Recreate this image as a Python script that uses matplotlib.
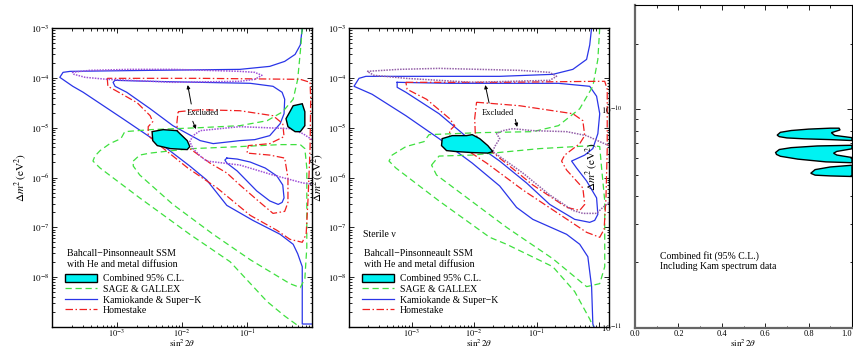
import numpy as np
import matplotlib
matplotlib.use('Agg')
import matplotlib.pyplot as plt
from matplotlib.ticker import (LogLocator, FuncFormatter, NullFormatter, MultipleLocator,
                               FixedLocator, FixedFormatter)
from matplotlib.patches import Patch
from matplotlib.lines import Line2D

plt.rcParams['font.family'] = ['Liberation Serif', 'DejaVu Serif']
plt.rcParams['mathtext.fontset'] = 'stix'

# Contours are stored as (log10 sin^2 2theta, log10 dm^2) pairs

# --- panel 1: active neutrinos ---
kam_a1 = [(-0.15, -3.00), (-0.18, -3.34), (-0.26, -3.53), (-0.42, -3.67), (-0.65, -3.77),
          (-1.11, -3.83), (-2.49, -3.85), (-3.72, -3.87), (-3.83, -3.89), (-3.88, -3.99),
          (-3.68, -4.17), (-3.52, -4.29), (-2.91, -4.82), (-2.23, -5.42), (-1.88, -5.77),
          (-1.62, -6.05), (-1.31, -6.56), (-0.91, -6.86), (-0.49, -7.14), (-0.29, -7.34),
          (-0.22, -7.53), (-0.15, -7.79), (-0.15, -8.94), (0.00, -8.94)]
kam_b1 = [(-3.03, -4.05), (-2.49, -4.07), (-1.72, -4.09), (-0.95, -4.11), (-0.60, -4.17),
          (-0.46, -4.29), (-0.42, -4.43), (-0.43, -4.72), (-0.49, -4.92), (-0.65, -5.16),
          (-0.88, -5.24), (-1.11, -5.26), (-1.52, -5.32), (-1.72, -5.26), (-2.14, -4.96),
          (-2.49, -4.62), (-2.85, -4.29), (-3.03, -4.17), (-3.06, -4.09)]
kam_c1 = [(-1.31, -5.61), (-1.15, -5.63), (-0.95, -5.69), (-0.72, -5.81), (-0.54, -5.97),
          (-0.45, -6.15), (-0.43, -6.41), (-0.46, -6.50), (-0.52, -6.54), (-0.65, -6.47),
          (-0.85, -6.27), (-1.15, -5.87), (-1.31, -5.71), (-1.34, -5.65)]
gal_a1 = [(-0.15, -3.00), (-0.17, -3.34), (-0.22, -4.03), (-0.29, -4.43), (-0.45, -4.68),
          (-0.69, -4.86), (-1.11, -4.96), (-1.72, -5.00), (-2.49, -5.04), (-2.88, -5.08),
          (-2.94, -5.22), (-3.11, -5.32), (-3.26, -5.46), (-3.34, -5.57), (-3.37, -5.67),
          (-3.26, -5.81), (-2.65, -6.41), (-1.88, -7.14), (-1.26, -7.69), (-0.69, -8.49),
          (-0.42, -8.78), (-0.23, -8.96)]
gal_b1 = [(-2.75, -5.67), (-2.65, -5.55), (-2.49, -5.51), (-2.14, -5.46), (-1.83, -5.42),
          (-1.11, -5.38), (-0.49, -5.34), (-0.18, -5.34), (-0.11, -5.42), (-0.08, -5.81),
          (-0.08, -7.40), (-0.11, -8.03), (-0.18, -8.21), (-0.34, -8.13), (-0.95, -7.65),
          (-1.52, -7.14), (-2.14, -6.54), (-2.65, -5.95), (-2.75, -5.77)]
home_a1 = [(-3.15, -4.01), (-3.14, -4.17), (-3.00, -4.27), (-2.69, -4.50), (-2.49, -4.76),
           (-2.45, -4.88), (-2.52, -4.98), (-2.52, -5.16), (-2.34, -5.36), (-1.91, -5.81),
           (-1.46, -6.21), (-0.95, -6.76), (-0.54, -7.06), (-0.34, -7.24), (-0.15, -7.30),
           (-0.09, -7.14), (-0.06, -6.41), (-0.03, -5.42), (-0.02, -4.43), (-0.03, -4.09),
           (-0.18, -4.03), (-1.72, -4.01)]
home_b1 = [(-2.06, -4.68), (-1.72, -4.64), (-1.11, -4.66), (-0.60, -4.76), (-0.45, -4.92),
           (-0.43, -5.18), (-0.65, -5.32), (-0.98, -5.36), (-1.00, -5.51), (-0.65, -5.55),
           (-0.42, -5.61), (-0.37, -6.01), (-0.37, -6.50), (-0.42, -6.68), (-0.60, -6.72),
           (-0.80, -6.50), (-1.11, -6.15), (-1.31, -5.91), (-1.57, -5.71), (-1.88, -5.42),
           (-2.06, -5.18), (-2.08, -4.92)]
dn_a1 = [(-3.69, -3.89), (-3.42, -3.85), (-2.80, -3.83), (-2.14, -3.83), (-1.11, -3.87),
         (-0.88, -3.89), (-0.77, -3.95), (-0.88, -4.03), (-1.11, -4.07), (-2.14, -4.09),
         (-3.15, -4.03), (-3.49, -3.99), (-3.66, -3.93)]
dn_b1 = [(0.00, -5.24), (-0.14, -5.12), (-0.34, -5.02), (-1.11, -4.98), (-1.72, -5.06),
         (-1.83, -5.16), (-1.88, -5.28), (-1.83, -5.42), (-1.72, -5.57), (-1.62, -5.67),
         (-1.11, -5.75), (-0.60, -5.95), (-0.14, -6.11), (0.00, -6.13)]
comb_a1 = [(-2.46, -5.08), (-2.29, -5.04), (-2.08, -5.06), (-1.92, -5.26), (-1.88, -5.38),
           (-1.92, -5.44), (-2.18, -5.42), (-2.38, -5.36), (-2.45, -5.26)]
comb_b1 = [(-0.29, -4.56), (-0.15, -4.52), (-0.11, -4.68), (-0.11, -4.96), (-0.18, -5.08),
           (-0.26, -5.08), (-0.37, -4.98), (-0.40, -4.82), (-0.34, -4.68)]

# --- panel 2: sterile neutrinos ---
kam_a2 = [(-0.12, -3.00), (-0.15, -3.34), (-0.20, -3.63), (-0.42, -3.83), (-0.74, -3.93),
          (-1.59, -3.97), (-3.20, -3.97), (-3.73, -3.97), (-3.84, -4.01), (-3.92, -4.17),
          (-3.63, -4.33), (-3.09, -4.76), (-2.56, -5.22), (-2.03, -5.71), (-1.59, -6.17),
          (-1.32, -6.60), (-1.06, -6.84), (-0.52, -7.14), (-0.31, -7.34), (-0.18, -7.59),
          (-0.12, -8.19), (-0.10, -8.94), (-0.08, -9.00)]
kam_b2 = [(-3.23, -4.09), (-2.39, -4.11), (-0.65, -4.11), (-0.15, -4.17), (-0.04, -4.37),
          (0.01, -4.72), (-0.02, -5.12), (-0.10, -5.42), (-0.23, -5.55), (-0.44, -5.67),
          (-0.36, -5.81), (-0.20, -6.07), (-0.04, -6.41), (-0.02, -6.74), (-0.07, -6.86),
          (-0.15, -6.90), (-0.39, -6.84), (-0.79, -6.54), (-1.16, -6.11), (-1.59, -5.67),
          (-2.03, -5.28), (-2.56, -4.72), (-3.09, -4.29), (-3.23, -4.19)]
gal_a2 = [(0.01, -3.00), (-0.02, -3.63), (-0.10, -4.17), (-0.31, -4.62), (-0.65, -4.96),
          (-1.06, -5.08), (-1.91, -5.10), (-2.72, -5.14), (-2.80, -5.28), (-3.09, -5.38),
          (-3.31, -5.55), (-3.36, -5.67), (-3.25, -5.81), (-2.56, -6.47), (-1.75, -7.20),
          (-1.48, -7.34), (-0.74, -7.79), (-0.39, -8.29), (-0.15, -8.84), (-0.10, -8.98)]
gal_b2 = [(-2.68, -5.75), (-2.56, -5.57), (-2.03, -5.55), (-1.70, -5.51), (-0.95, -5.42),
          (-0.10, -5.36), (0.01, -5.38), (0.04, -5.81), (0.09, -6.47), (0.09, -7.79),
          (0.01, -8.13), (-0.20, -8.19), (-0.74, -7.63), (-1.48, -7.00), (-2.60, -5.95)]
home_a2 = [(-3.09, -4.09), (-1.59, -4.09), (-0.04, -4.07), (0.09, -4.07), (0.13, -4.23),
           (0.13, -5.42), (0.11, -6.41), (0.08, -7.04), (0.01, -7.20), (-0.20, -7.10),
           (-0.68, -6.70), (-1.22, -6.25), (-1.80, -5.71), (-2.39, -5.22), (-2.39, -5.06),
           (-2.31, -4.96), (-2.39, -4.82), (-2.76, -4.43), (-3.07, -4.23)]
home_b2 = [(-1.96, -4.49), (-1.27, -4.56), (-0.42, -4.72), (-0.26, -4.86), (-0.23, -5.16),
           (-0.31, -5.32), (-0.55, -5.55), (-0.60, -5.67), (-0.52, -5.85), (-0.26, -6.21),
           (-0.23, -6.54), (-0.31, -6.66), (-0.52, -6.60), (-1.06, -6.15), (-1.59, -5.61),
           (-1.91, -5.28), (-1.98, -5.12), (-1.99, -4.82)]
dn_a2 = [(-3.71, -3.87), (-3.20, -3.83), (-2.56, -3.81), (-1.27, -3.85), (-0.79, -3.89),
         (-0.68, -3.97), (-0.79, -4.05), (-2.03, -4.09), (-3.09, -4.01), (-3.60, -3.95)]
dn_b2 = [(0.16, -5.36), (0.01, -5.28), (-0.20, -5.16), (-0.52, -5.08), (-1.06, -5.06),
         (-1.38, -5.02), (-1.54, -5.06), (-1.64, -5.12), (-1.59, -5.22), (-1.67, -5.38),
         (-1.70, -5.48), (-1.22, -5.91), (-0.79, -6.35), (-0.42, -6.66), (-0.26, -6.72),
         (-0.04, -6.72), (0.06, -6.60), (0.16, -6.50)]
comb_2 = [(-2.51, -5.22), (-2.35, -5.16), (-2.12, -5.16), (-2.03, -5.14), (-1.91, -5.22),
          (-1.78, -5.36), (-1.70, -5.48), (-1.78, -5.51), (-2.03, -5.50), (-2.28, -5.48),
          (-2.44, -5.46), (-2.52, -5.36)]

# --- panel 3: vacuum solution, (sin^2 2theta, dm^2 in 1e-11 eV^2) ---
vac_a = [(0.655, 7.62), (0.67, 7.85), (0.72, 8.0), (0.80, 8.12), (0.90, 8.2), (0.94, 8.2),
         (0.945, 8.05), (0.905, 7.82), (0.92, 7.6), (1.0, 7.42), (1.0, 7.2), (0.90, 7.27),
         (0.78, 7.33), (0.70, 7.4), (0.665, 7.5)]
vac_b = [(0.648, 6.35), (0.665, 6.55), (0.72, 6.68), (0.84, 6.8), (1.0, 6.85), (1.0, 6.6),
         (0.93, 6.42), (0.915, 6.3), (0.93, 6.18), (1.0, 6.02), (1.0, 5.7), (0.88, 5.75),
         (0.75, 5.92), (0.67, 6.1), (0.652, 6.22)]
vac_c = [(0.81, 5.1), (0.83, 5.3), (0.90, 5.45), (1.0, 5.55), (1.0, 4.93), (0.90, 4.96),
         (0.83, 5.0)]
vac_xticks = [0.0, 0.2, 0.4, 0.6, 0.8, 1.0]
vac_xticklabels = ['0.0', '0.2', '0.4', '0.6', '0.8', '1.0']

legend_labels = ['Combined 95% C.L.', 'SAGE & GALLEX', 'Kamiokande & Super\u2212K', 'Homestake']

BLUE = '#2a35e8'
GREEN = '#3fe03f'
RED = '#f02020'
CYAN = '#00f2f2'
GAL_LS = (0, (5, 3))
HOME_LS = (0, (6, 2, 1.2, 2))
XLABEL = r'$\sin^2 2\theta$'
YLABEL = r'$\Delta m^2\,(\mathrm{eV}^2)$'


def logpts(pts, close=False):
    a = np.array(pts, dtype=float)
    if close:
        a = np.vstack([a, a[:1]])
    return 10 ** a[:, 0], 10 ** a[:, 1]


def decade_fmt(shown):
    def f(v, pos):
        e = int(round(np.log10(v)))
        return r'$10^{%d}$' % e if e in shown else ''
    return FuncFormatter(f)


def setup_log_axes(ax, xmax):
    ax.set_xscale('log')
    ax.set_yscale('log')
    ax.set_xlim(1e-4, xmax)
    ax.set_ylim(1e-9, 1e-3)
    for axis in (ax.xaxis, ax.yaxis):
        axis.set_major_locator(LogLocator(base=10, numticks=20))
        axis.set_minor_locator(LogLocator(base=10, subs=np.arange(2, 10), numticks=20))
        axis.set_minor_formatter(NullFormatter())
    ax.xaxis.set_major_formatter(decade_fmt({-3, -2, -1}))
    ax.yaxis.set_major_formatter(decade_fmt({-3, -4, -5, -6, -7, -8}))
    ax.tick_params(which='both', direction='in', top=True, right=True, width=0.6)
    ax.tick_params(which='major', length=3.5, labelsize=6.5)
    ax.tick_params(which='minor', length=1.8)
    ax.tick_params(axis='x', pad=0.5, labelsize=6)
    ax.tick_params(axis='y', pad=2)
    for s in ax.spines.values():
        s.set_linewidth(1.0)
    ax.set_xlabel(XLABEL, fontsize=6.5, va='bottom')
    ax.set_ylabel(YLABEL, fontsize=8, labelpad=1)


def draw_panel(ax, kam, gal, home, dn, comb, dn_color):
    for c, closed in kam:
        ax.plot(*logpts(c, closed), color=BLUE, lw=0.9)
    for c, closed in gal:
        ax.plot(*logpts(c, closed), color=GREEN, lw=0.9, ls=GAL_LS)
    for c, closed in home:
        ax.plot(*logpts(c, closed), color=RED, lw=0.9, ls=HOME_LS)
    for c, closed in dn:
        ax.plot(*logpts(c, closed), color=dn_color, lw=1.1, ls=(0, (1, 0.8)))
    for c in comb:
        x, y = logpts(c, True)
        ax.fill(x, y, facecolor=CYAN, edgecolor='black', lw=1.0, zorder=5)


def excluded(ax, txt, arrows):
    ax.text(10 ** txt[0], 10 ** txt[1], 'Excluded', fontsize=6, ha='center', va='center',
            zorder=6)
    for start, tip in arrows:
        ax.annotate('', xy=(10 ** tip[0], 10 ** tip[1]), xytext=(10 ** start[0], 10 ** start[1]),
                    arrowprops=dict(arrowstyle='-|>', color='black', lw=0.7,
                                    mutation_scale=5), zorder=6)


def add_legend(ax):
    handles = [Patch(facecolor=CYAN, edgecolor='black', lw=1.0),
               Line2D([], [], color=GREEN, lw=0.9, ls=GAL_LS),
               Line2D([], [], color=BLUE, lw=0.9),
               Line2D([], [], color=RED, lw=0.9, ls=HOME_LS)]
    ax.text(0.058, 0.245, 'Bahcall\u2212Pinsonneault SSM', transform=ax.transAxes,
            fontsize=7, va='center')
    ax.text(0.058, 0.208, 'with He and metal diffusion', transform=ax.transAxes,
            fontsize=7, va='center')
    ax.legend(handles, legend_labels, loc='upper left', bbox_to_anchor=(0.05, 0.177),
              frameon=False, fontsize=7, handlelength=3.3, handleheight=0.9,
              handletextpad=0.6, labelspacing=0.12, borderpad=0, borderaxespad=0)


def base_xlabel(ax):
    # x label sits on the lower figure edge, under the tick labels
    inv = ax.transAxes.inverted()
    ax.xaxis.set_label_coords(0.5, inv.transform((0, 1.0))[1])


fig = plt.figure(figsize=(8.54, 3.5), dpi=100)

ax1 = fig.add_axes([52 / 854, 23 / 350, 260 / 854, 299 / 350])
setup_log_axes(ax1, 1.0)
draw_panel(ax1,
           [(kam_a1, False), (kam_b1, True), (kam_c1, True)],
           [(gal_a1, False), (gal_b1, True)],
           [(home_a1, True), (home_b1, True)],
           [(dn_a1, True), (dn_b1, False)],
           [comb_a1, comb_b1], '#a050d8')
excluded(ax1, (-1.68, -4.70), [((-1.85, -4.58), (-1.92, -4.09)),
                               ((-1.85, -4.82), (-1.77, -5.08))])
add_legend(ax1)

ax2 = fig.add_axes([349 / 854, 23 / 350, 260 / 854, 299 / 350])
setup_log_axes(ax2, 1.44)
draw_panel(ax2,
           [(kam_a2, False), (kam_b2, True)],
           [(gal_a2, False), (gal_b2, True)],
           [(home_a2, True), (home_b2, True)],
           [(dn_a2, True), (dn_b2, False)],
           [comb_2], '#935fa8')
excluded(ax2, (-1.62, -4.70), [((-1.75, -4.56), (-1.83, -4.09)),
                               ((-1.35, -4.78), (-1.30, -5.04))])
ax2.text(0.054, 0.31, 'Sterile \u03bd', transform=ax2.transAxes, fontsize=7, va='center')
add_legend(ax2)

ax3 = fig.add_axes([635 / 854, 22 / 350, 217 / 854, 323 / 350])
ax3.set_yscale('log')
ax3.set_xlim(0, 1)
ax3.set_ylim(1e-11, 3e-10)
for c in (vac_a, vac_b, vac_c):
    a = np.array(c + c[:1])
    ax3.fill(a[:, 0], a[:, 1] * 1e-11, facecolor=CYAN, edgecolor='black', lw=1.0,
             clip_on=False)
ax3.xaxis.set_major_locator(FixedLocator(vac_xticks))
ax3.xaxis.set_major_formatter(FixedFormatter(vac_xticklabels))
ax3.xaxis.set_minor_locator(MultipleLocator(0.1))
ax3.yaxis.set_major_locator(LogLocator(base=10, numticks=10))
ax3.yaxis.set_minor_locator(LogLocator(base=10, subs=np.arange(2, 10), numticks=10))
ax3.yaxis.set_minor_formatter(NullFormatter())
ax3.yaxis.set_major_formatter(decade_fmt({-10, -11}))
ax3.tick_params(which='both', direction='in', top=True, right=True, width=0.6)
ax3.tick_params(which='major', length=3.5, labelsize=6.5)
ax3.tick_params(which='minor', length=1.8)
ax3.tick_params(axis='y', pad=9)
ax3.tick_params(axis='x', pad=1.5, labelsize=6)
ax3.spines['left'].set_color('0.4')
ax3.spines['left'].set_linewidth(1.6)
ax3.spines['bottom'].set_color('0.4')
ax3.spines['bottom'].set_linewidth(1.6)
ax3.set_xlabel(XLABEL, fontsize=6.5, va='bottom')
ax3.set_ylabel(YLABEL, fontsize=8, labelpad=1)
ax3.text(0.115, 0.222, 'Combined fit (95% C.L.)', transform=ax3.transAxes, fontsize=7,
         va='center')
ax3.text(0.115, 0.19, 'Including Kam spectrum data', transform=ax3.transAxes, fontsize=7,
         va='center')

for ax in (ax1, ax2, ax3):
    base_xlabel(ax)
# last tick label of the linear panel sits on the figure edge
ax3.xaxis.get_major_ticks()[-1].label1.set_horizontalalignment('right')

fig.savefig('out.png', dpi=100)
